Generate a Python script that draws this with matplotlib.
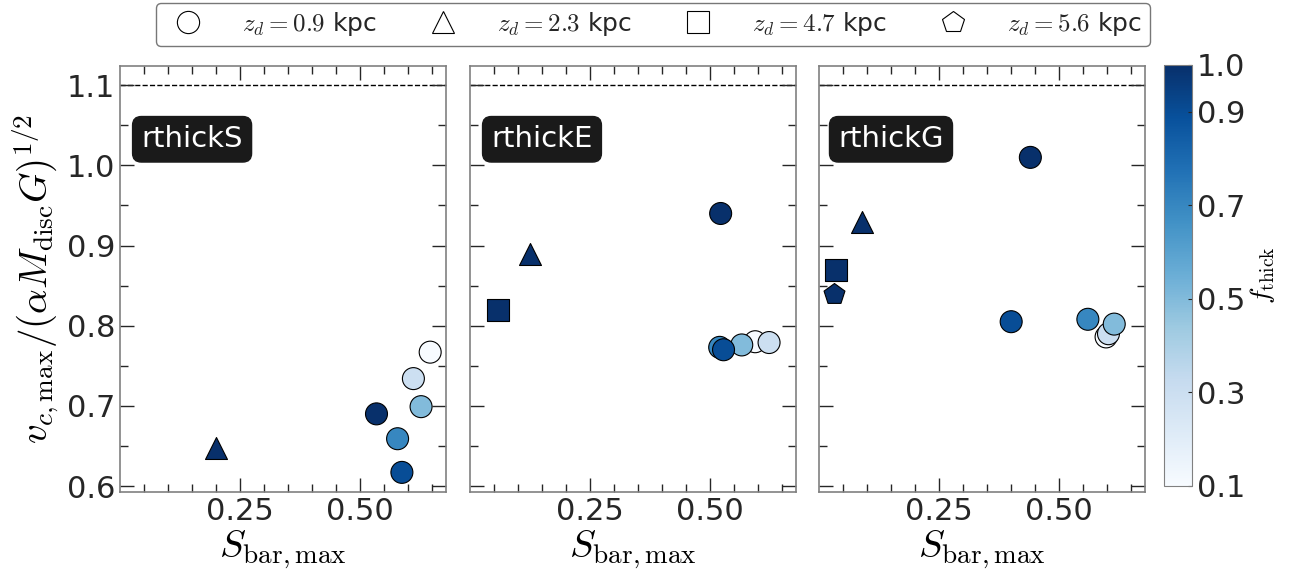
import matplotlib
matplotlib.use('Agg')
import matplotlib.pyplot as plt
import numpy as np
from matplotlib.lines import Line2D

plt.rcParams.update({'font.family': ['DejaVu Sans'],
                     'mathtext.fontset': 'cm',
                     'text.color': '#262626',
                     'xtick.color': '#262626',
                     'ytick.color': '#262626',
                     'xtick.labelcolor': '#262626',
                     'ytick.labelcolor': '#262626'})

# Modelos y sus puntos: S_bar,max, v_c,max normalizada, f_thick
modelos = ['rthickS', 'rthickE', 'rthickG']

# z_d = 0.9 kpc (circulos), ordenados por f_thick creciente
f_circ = [0.1, 0.3, 0.5, 0.7, 0.9, 1.0]
s_circ = {'rthickS': [0.647, 0.612, 0.628, 0.579, 0.588, 0.535],
          'rthickE': [0.595, 0.624, 0.567, 0.521, 0.529, 0.523],
          'rthickG': [0.599, 0.604, 0.616, 0.561, 0.401, 0.441]}
v_circ = {'rthickS': [0.767, 0.734, 0.699, 0.659, 0.617, 0.690],
          'rthickE': [0.780, 0.779, 0.776, 0.773, 0.770, 0.940],
          'rthickG': [0.786, 0.790, 0.802, 0.808, 0.805, 1.010]}

# z_d = 2.3 kpc (triangulos), f_thick = 1
s_tri = {'rthickS': 0.200, 'rthickE': 0.126, 'rthickG': 0.090}
v_tri = {'rthickS': 0.648, 'rthickE': 0.889, 'rthickG': 0.929}

# z_d = 4.7 kpc (cuadrados) y z_d = 5.6 kpc (pentagono)
s_cuad = {'rthickE': 0.059, 'rthickG': 0.035}
v_cuad = {'rthickE': 0.820, 'rthickG': 0.870}
s_pent = {'rthickG': 0.032}
v_pent = {'rthickG': 0.840}

zd_etiquetas = ['0.9', '2.3', '4.7', '5.6']
zd_marcadores = ['o', '^', 's', 'p']

cb_ticks = [0.1, 0.3, 0.5, 0.7, 0.9, 1.0]

cmap = plt.get_cmap('Blues')
norm = matplotlib.colors.Normalize(vmin=0.1, vmax=1.0)

fig = plt.figure(figsize=(12.95, 5.76), dpi=100)
ancho = 0.2517
izquierdas = [0.0927, 0.3629, 0.6324]
ejes = [fig.add_axes([x0, 0.1458, ancho, 0.7396]) for x0 in izquierdas]

tam = 250
for i, (ax, m) in enumerate(zip(ejes, modelos)):
    ax.axhline(1.1, color='black', ls='--', lw=1.0, zorder=1)
    ax.scatter(s_circ[m], v_circ[m], c=f_circ, cmap=cmap, norm=norm,
               marker='o', s=tam, edgecolors='black', linewidths=0.8, zorder=3)
    ax.scatter([s_tri[m]], [v_tri[m]], c=[1.0], cmap=cmap, norm=norm,
               marker='^', s=tam, edgecolors='black', linewidths=0.8, zorder=3)
    if m in s_cuad:
        ax.scatter([s_cuad[m]], [v_cuad[m]], c=[1.0], cmap=cmap, norm=norm,
                   marker='s', s=tam, edgecolors='black', linewidths=0.8, zorder=3)
    if m in s_pent:
        ax.scatter([s_pent[m]], [v_pent[m]], c=[1.0], cmap=cmap, norm=norm,
                   marker='p', s=tam, edgecolors='black', linewidths=0.8, zorder=3)

    ax.set_xlim(0.0, 0.68)
    ax.set_ylim(0.5925, 1.124)
    ax.set_xticks([0.25, 0.50])
    ax.set_xticklabels(['0.25', '0.50'])
    ax.set_xticks(np.arange(0.05, 0.68, 0.05), minor=True)
    ax.set_yticks([0.6, 0.7, 0.8, 0.9, 1.0, 1.1])
    ax.set_yticks(np.arange(0.65, 1.12, 0.1), minor=True)
    ax.tick_params(which='both', direction='in', top=True, right=True,
                   labelsize=22, width=1.0)
    ax.tick_params(which='major', length=10)
    ax.tick_params(which='minor', length=6)
    if i > 0:
        ax.set_yticklabels([])
    else:
        ax.set_ylabel(r'$v_{c,\rm max}/(\alpha M_{\rm disc}G)^{1/2}$', fontsize=28)
    ax.set_xlabel(r'$S_{\rm bar,max}$', fontsize=28, labelpad=2)
    for sp in ax.spines.values():
        sp.set_color('#808080')
        sp.set_linewidth(1.2)

    ax.text(0.221, 0.828, m, transform=ax.transAxes, fontsize=21, color='white',
            ha='center', va='center', zorder=5,
            bbox=dict(boxstyle='round,pad=0.3', fc='#1a1a1a', ec='#1a1a1a'))

# Barra de color
cax = fig.add_axes([0.8991, 0.1563, 0.0216, 0.7309])
sm = matplotlib.cm.ScalarMappable(norm=norm, cmap=cmap)
cb = fig.colorbar(sm, cax=cax, ticks=cb_ticks)
cb.ax.tick_params(labelsize=22, length=3, direction='in')
cb.outline.set_edgecolor('#808080')
cb.set_label(r'$f_{\rm thick}$', fontsize=20, labelpad=2)

# Leyenda de z_d
manejadores = [Line2D([], [], ls='none', marker=mk, markersize=16,
                      markerfacecolor='white', markeredgecolor='black',
                      markeredgewidth=0.8) for mk in zd_marcadores]
etiquetas = [r'$z_d = %s$ kpc' % z for z in zd_etiquetas]
fig.legend(manejadores, etiquetas, loc='upper center', ncol=4,
           bbox_to_anchor=(0.504, 1.0), fontsize=18, frameon=True,
           handletextpad=1.16, columnspacing=1.64, borderpad=0.3,
           borderaxespad=0.1, edgecolor='#555555', fancybox=True)

plt.savefig('out.png', dpi=100)
